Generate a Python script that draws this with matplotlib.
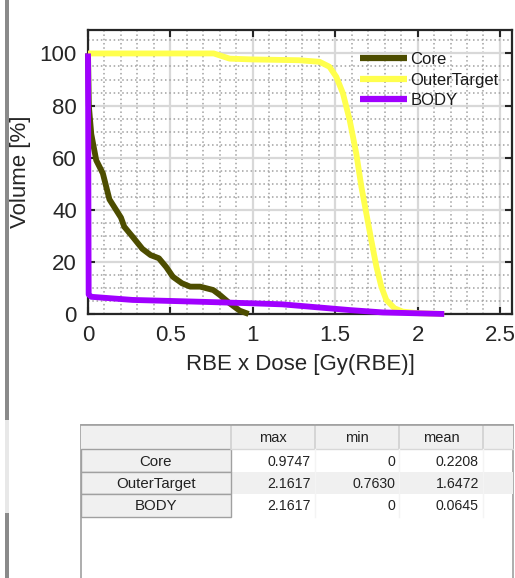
import matplotlib
matplotlib.use("Agg")
import matplotlib.pyplot as plt
from matplotlib.patches import Rectangle
from matplotlib.lines import Line2D
from matplotlib.ticker import MultipleLocator

plt.rcParams["font.family"] = ["Liberation Sans", "DejaVu Sans"]

# ---------- DVH curves ----------
core_dose = [0.0, 0.005, 0.02, 0.05, 0.09, 0.13, 0.16, 0.20, 0.22, 0.27, 0.33,
             0.38, 0.43, 0.475, 0.515, 0.57, 0.62, 0.68, 0.76, 0.80, 0.86,
             0.92, 0.9747]
core_vol = [100, 80, 69, 59, 54, 44, 41, 37, 33.5, 29.7, 25,
            22.6, 21.4, 18, 14.3, 11.8, 10.5, 10.5, 9.2, 7.3, 4.1,
            1.3, 0]

outer_dose = [0.0, 0.763, 0.86, 1.0, 1.28, 1.405, 1.465, 1.507, 1.547, 1.588,
              1.628, 1.659, 1.689, 1.719, 1.75, 1.78, 1.81, 1.86, 1.91, 2.01,
              2.13, 2.1617]
outer_vol = [100, 100, 98, 97.7, 97.4, 96.8, 94.9, 91, 84.7, 74.4,
             61.6, 48.8, 38.6, 28.4, 18.2, 10.5, 5.4, 2.2, 0.9, 0.3,
             0.05, 0]

body_dose = [0.0, 0.004, 0.02, 0.27, 0.68, 1.0, 1.18, 1.385, 1.59, 1.79, 2.1617]
body_vol = [100, 7.5, 6.6, 5.4, 4.7, 4.1, 3.7, 2.6, 1.5, 0.6, 0]

structures = ["Core", "OuterTarget", "BODY"]
colors = ["#4d4d00", "#ffff4d", "#a000ff"]

# ---------- statistics table ----------
col_names = ["max", "min", "mean"]
max_vals = [0.9747, 2.1617, 2.1617]
min_vals = [0, 0.7630, 0]
mean_vals = [0.2208, 1.6472, 0.0645]

W, H = 515, 578
fig = plt.figure(figsize=(W / 100, H / 100), dpi=100)


def fx(px):
    return px / W


def fy(py):
    return 1 - py / H


# left window border of the app
fig.add_artist(Rectangle((fx(5), 0), fx(3.5), 1, transform=fig.transFigure,
                         facecolor="#8a8a8a", edgecolor="none"))
fig.add_artist(Rectangle((fx(5), fy(513)), fx(3.5), (513 - 420) / H,
                         transform=fig.transFigure, facecolor="#e8e8e8",
                         edgecolor="none"))

# ---------- DVH axes ----------
ax = fig.add_axes([fx(88), fy(314), fx(512 - 88), (314 - 30) / H])
for d, v, c, name in zip([core_dose, outer_dose, body_dose],
                         [core_vol, outer_vol, body_vol], colors, structures):
    ax.plot(d, v, color=c, lw=4.2, label=name, solid_joinstyle="round",
            solid_capstyle="butt", clip_on=False, zorder=3)

ax.set_xlim(0, 2.573)
ax.set_ylim(0, 109)
ax.xaxis.set_major_locator(MultipleLocator(0.5))
ax.xaxis.set_minor_locator(MultipleLocator(0.1))
ax.yaxis.set_major_locator(MultipleLocator(20))
ax.yaxis.set_minor_locator(MultipleLocator(5))
ax.set_xticks([0, 0.5, 1, 1.5, 2, 2.5])
ax.set_xticklabels(["0", "0.5", "1", "1.5", "2", "2.5"])
ax.grid(which="major", color="#d8d8d8", lw=1.6, ls="-")
ax.grid(which="minor", color="#a0a0a0", lw=1.1, ls=(0, (1, 1.8)))
ax.set_axisbelow(True)
ax.tick_params(which="major", direction="in", length=5, width=1.5,
               top=True, right=True, labelsize=16, colors="#262626", pad=8)
ax.tick_params(which="minor", length=0, top=True, right=True)
for s in ax.spines.values():
    s.set_linewidth(1.6)
    s.set_color("#262626")
    s.set_zorder(2.5)
ax.set_xlabel("RBE x Dose [Gy(RBE)]", fontsize=16, color="#262626", labelpad=6)
ax.set_ylabel("Volume [%]", fontsize=16, color="#262626", labelpad=6)

leg = ax.legend(loc="upper left", bbox_to_anchor=(0.625, 0.945), frameon=False,
                fontsize=12, handlelength=2.85, handletextpad=0.2,
                labelspacing=0.32, borderaxespad=0)
for line in leg.get_lines():
    line.set_linewidth(4.5)
for t in leg.get_texts():
    t.set_color("#1a1a1a")

# ---------- table (uitable look) ----------
tab = fig.add_axes([0, 0, 1, 1])
tab.set_xlim(0, W)
tab.set_ylim(H, 0)
tab.axis("off")

x0, x1 = 81, 513
xc = [231, 315, 399, 483]
y_head = (425, 449)
rows_y = [(449, 472), (472, 494), (494, 517)]

tab.add_patch(Rectangle((x0, 425), x1 - x0, H - 425 + 5, facecolor="white",
                        edgecolor="#a0a0a0", lw=1.2))
tab.add_patch(Rectangle((x0, y_head[0]), x1 - x0, y_head[1] - y_head[0],
                        facecolor="#f0f0f0", edgecolor="none"))
tab.add_patch(Rectangle((xc[0], rows_y[1][0]), x1 - xc[0],
                        rows_y[1][1] - rows_y[1][0], facecolor="#f0f0f0",
                        edgecolor="none"))
for (ya, yb) in rows_y:
    tab.add_patch(Rectangle((x0, ya), xc[0] - x0, yb - ya,
                            facecolor="#f0f0f0", edgecolor="#a0a0a0", lw=1.0))
for x in xc:
    tab.add_line(Line2D([x, x], [y_head[0], y_head[1]], color="#d0d0d0", lw=1.2))
tab.add_line(Line2D([xc[0], x1], [y_head[1], y_head[1]], color="#d8d8d8", lw=1.0))
tab.add_line(Line2D([x0, x1], [y_head[0], y_head[0]], color="#a0a0a0", lw=1.2))
for x in xc[1:]:
    tab.add_line(Line2D([x, x], [y_head[1], rows_y[-1][1]], color="#f4f4f4", lw=1.0))

for j, name in enumerate(col_names):
    tab.text((xc[j] + xc[j + 1]) / 2, (y_head[0] + y_head[1]) / 2 + 1, name,
             ha="center", va="center", fontsize=10.5, color="#222222")


def fmt(v):
    return "0" if v == 0 else f"{v:.4f}"


for i, name in enumerate(structures):
    yc = (rows_y[i][0] + rows_y[i][1]) / 2 + 1
    tab.text((x0 + xc[0]) / 2, yc, name, ha="center", va="center",
             fontsize=10.8, color="#222222")
    for j, vals in enumerate([max_vals, min_vals, mean_vals]):
        tab.text(xc[j + 1] - 4, yc, fmt(vals[i]), ha="right", va="center",
                 fontsize=10.2, color="#222222")

fig.savefig("out.png", dpi=100)
